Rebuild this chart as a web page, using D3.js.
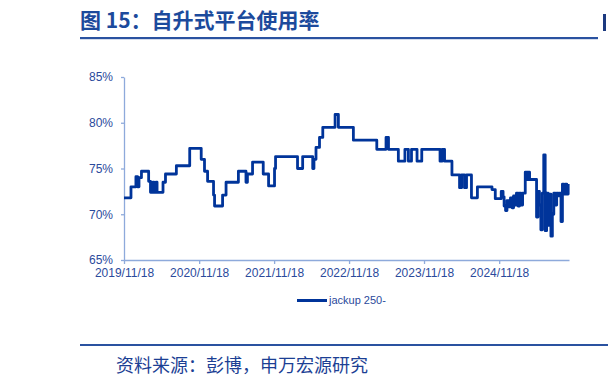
<!DOCTYPE html>
<html>
<head>
<meta charset="utf-8">
<script src="https://cdn.jsdelivr.net/npm/d3@7"></script>
<style>
  body { margin: 0; background: #fff; }
  svg { display: block; font-family: "Liberation Sans", Arial, sans-serif; }
</style>
</head>
<body>
<div id="chart"></div>
<script>
// change points of the series (weekly data, level holds until next date)
const dates = [
  "2019-11-18", "2019-12-22", "2020-01-15", "2020-01-23", "2020-01-30", "2020-02-11",
  "2020-03-17", "2020-03-26", "2020-04-07", "2020-04-12", "2020-04-22", "2020-04-27",
  "2020-05-26", "2020-06-07", "2020-07-30", "2020-10-03", "2020-11-28", "2020-12-14",
  "2020-12-29", "2021-01-27", "2021-02-01", "2021-03-12", "2021-03-29", "2021-05-28",
  "2021-07-04", "2021-07-11", "2021-08-05", "2021-09-26", "2021-10-22", "2021-11-20",
  "2021-11-25", "2022-03-12", "2022-04-06", "2022-05-25", "2022-05-31", "2022-06-10",
  "2022-06-27", "2022-07-13", "2022-09-11", "2022-09-27", "2022-12-09", "2023-04-02",
  "2023-05-17", "2023-05-29", "2023-07-16", "2023-08-17", "2023-09-03", "2023-09-18",
  "2023-10-15", "2023-11-07", "2024-02-04", "2024-02-14", "2024-02-26", "2024-04-02",
  "2024-05-09", "2024-05-19", "2024-06-02", "2024-06-12", "2024-07-06", "2024-08-04",
  "2024-10-14", "2024-10-30", "2024-11-28", "2024-12-07", "2024-12-12", "2024-12-19",
  "2024-12-26", "2025-01-05", "2025-01-12", "2025-01-20", "2025-01-27", "2025-02-03",
  "2025-02-10", "2025-02-18", "2025-02-25", "2025-03-04", "2025-03-12", "2025-03-25",
  "2025-04-02", "2025-04-07", "2025-04-15", "2025-05-19", "2025-05-26", "2025-06-02",
  "2025-06-09", "2025-06-16", "2025-06-23", "2025-06-30", "2025-07-07", "2025-07-14",
  "2025-07-21", "2025-07-28", "2025-08-04", "2025-08-11", "2025-08-18", "2025-08-25",
  "2025-09-01", "2025-09-08", "2025-09-15", "2025-09-22", "2025-09-29", "2025-10-06",
  "2025-10-13", "2025-10-20"
];
const values = [
  71.8, 73.0, 74.1, 73.0, 74.0, 74.7,
  73.6, 72.4, 73.5, 72.4, 73.5, 72.4,
  73.5, 74.4, 75.3, 77.2, 76.0, 74.7,
  73.6, 72.1, 70.9, 72.1, 73.5, 74.7,
  73.5, 74.4, 75.7, 74.4, 73.1, 75.0,
  76.3, 75.0, 76.3, 75.0, 76.0, 77.3,
  78.4, 79.5, 80.9, 79.5, 78.1, 77.1,
  78.4, 77.1, 75.8, 77.1, 75.8, 77.1,
  75.8, 77.1, 75.8, 77.1, 75.8, 74.3,
  72.9, 74.3, 72.9, 74.3, 71.8, 73.0,
  72.7, 71.7, 72.5, 71.9, 70.9, 70.4,
  71.5, 70.8, 71.8, 70.7, 72.0, 71.0,
  72.3, 70.9, 72.3, 71.0, 72.3, 74.6,
  73.8, 74.6, 73.8, 69.7, 72.5, 71.0,
  68.3, 72.3, 76.5, 68.2, 72.3, 68.8,
  72.2, 67.6, 70.0, 72.3, 71.0, 72.3,
  72.0, 72.3, 69.2, 73.3, 72.2, 73.3,
  72.2, 73.3
];
const seriesName = "jackup 250-";
const xTickLabels = ["2019/11/18", "2020/11/18", "2021/11/18", "2022/11/18", "2023/11/18", "2024/11/18"];
const yTicks = [65, 70, 75, 80, 85];

const W = 608, H = 387;
const margin = { top: 77, right: 39, bottom: 127, left: 124 },
  width = W - margin.left - margin.right,
  height = H - margin.top - margin.bottom;

const parse = d3.timeParse("%Y-%m-%d");
const parseTick = d3.timeParse("%Y/%m/%d");
const data = dates.map((d, i) => ({ date: parse(d), value: values[i] }));

const svg = d3.select("#chart").append("svg")
  .attr("width", W)
  .attr("height", H);

// title + rules
svg.append("text")
  .attr("x", 80)
  .attr("y", 28)
  .attr("fill", "#1c4a9c")
  .style("font-family", "'Noto Sans CJK SC', sans-serif")
  .style("font-weight", "bold")
  .style("font-size", "21px")
  .text("图 15：自升式平台使用率");

svg.append("rect").attr("x", 80).attr("y", 37).attr("width", 518).attr("height", 2.2).attr("fill", "#2a52a0");
svg.append("rect").attr("x", 603).attr("y", 14).attr("width", 3).attr("height", 17).attr("fill", "#1c3a80");
svg.append("rect").attr("x", 80).attr("y", 344).attr("width", 528).attr("height", 2).attr("fill", "#2a52a0");

svg.append("text")
  .attr("x", 116)
  .attr("y", 372)
  .attr("fill", "#1c3f94")
  .style("font-family", "'Noto Sans CJK SC', sans-serif")
  .style("font-size", "18px")
  .text("资料来源：彭博，申万宏源研究");

const g = svg.append("g")
  .attr("transform", `translate(${margin.left},${margin.top})`);

// scales
const x = d3.scaleTime()
  .domain([parse("2019-11-18"), parse("2025-10-24")])
  .range([0, width]);
const y = d3.scaleLinear()
  .domain([65, 85])
  .range([height, 0]);

const axisColor = "#8eaadb";
const labelColor = "#2b4a9c";

// x axis
const xAxis = g.append("g")
  .attr("transform", `translate(0,${height})`)
  .call(d3.axisBottom(x)
    .tickValues(xTickLabels.map(parseTick))
    .tickFormat(d3.timeFormat("%Y/%m/%d"))
    .tickSizeInner(4)
    .tickSizeOuter(0)
    .tickPadding(4));
xAxis.select(".domain").attr("stroke", axisColor).attr("stroke-width", 1.3);
xAxis.selectAll(".tick line").attr("stroke", axisColor).attr("stroke-width", 1.3);
xAxis.selectAll(".tick text")
  .attr("fill", labelColor)
  .attr("dy", "0.75em")
  .style("font-size", "12px");

// y axis
const yAxis = g.append("g")
  .call(d3.axisLeft(y)
    .tickValues(yTicks)
    .tickFormat(d => d + "%")
    .tickSizeInner(3)
    .tickSizeOuter(0)
    .tickPadding(8));
yAxis.select(".domain").attr("stroke", axisColor).attr("stroke-width", 1.3);
yAxis.selectAll(".tick line").attr("stroke", axisColor).attr("stroke-width", 1.3);
yAxis.selectAll(".tick text")
  .attr("fill", labelColor)
  .style("font-size", "12px");

// the line
g.append("path")
  .datum(data)
  .attr("fill", "none")
  .attr("stroke", "#00349a")
  .attr("stroke-width", 2.8)
  .attr("stroke-linejoin", "round")
  .attr("d", d3.line()
    .x(d => x(d.date))
    .y(d => y(d.value))
    .curve(d3.curveStepAfter));

// legend
const legend = svg.append("g")
  .attr("transform", "translate(297,300.5)");
legend.append("line")
  .attr("x1", 0).attr("x2", 30)
  .attr("stroke", "#00349a")
  .attr("stroke-width", 3);
legend.append("text")
  .attr("x", 32)
  .attr("dy", "0.35em")
  .attr("fill", labelColor)
  .style("font-size", "11px")
  .text(seriesName);
</script>
</body>
</html>
